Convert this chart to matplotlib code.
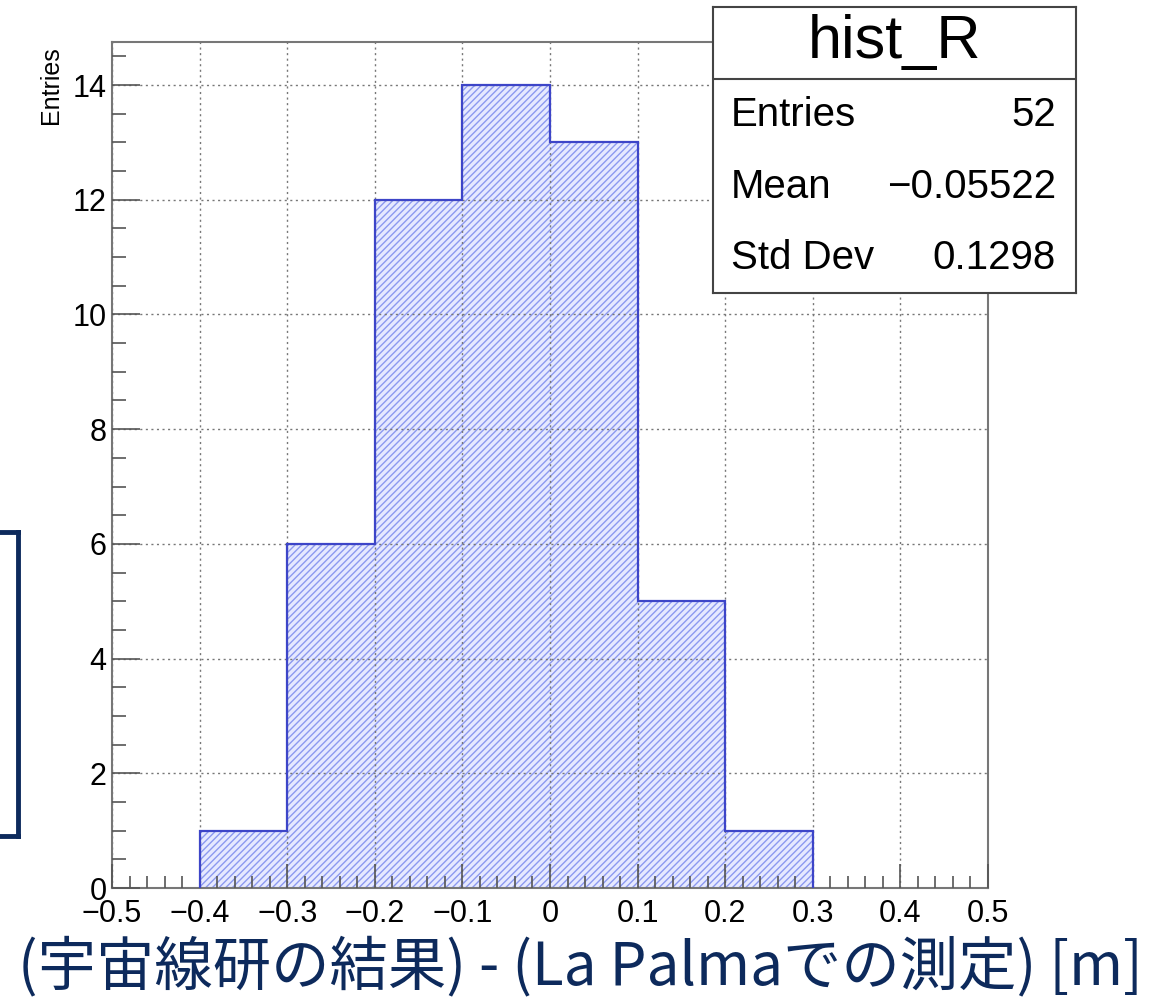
import matplotlib
matplotlib.use("Agg")
import matplotlib.pyplot as plt
from matplotlib.ticker import MultipleLocator, FixedLocator
from matplotlib.lines import Line2D

# histogram data (bin edges in m, counts)
bin_edges = [-0.4, -0.3, -0.2, -0.1, 0.0, 0.1, 0.2, 0.3]
counts = [1, 6, 12, 14, 13, 5, 1]

hist_name = "hist_R"
stat_names = ["Entries", "Mean", "Std Dev"]
stat_values = ["52", "\u22120.05522", "0.1298"]

x_ticks = [-0.5, -0.4, -0.3, -0.2, -0.1, 0, 0.1, 0.2, 0.3, 0.4, 0.5]
x_tick_labels = ["\u22120.5", "\u22120.4", "\u22120.3", "\u22120.2", "\u22120.1",
                 "0", "0.1", "0.2", "0.3", "0.4", "0.5"]
y_ticks = [0, 2, 4, 6, 8, 10, 12, 14]

x_title = "(宇宙線研の結果) - (La Palmaでの測定) [m]"
y_title = "Entries"

plt.rcParams['font.family'] = ['Liberation Sans', 'DejaVu Sans']
plt.rcParams['hatch.linewidth'] = 1.0

W, H = 1168, 999
fig = plt.figure(figsize=(W / 100, H / 100), dpi=100)

# main frame (pixel box: left 112, right 988, top 42, bottom 888)
ax = fig.add_axes([112 / W, (H - 888) / H, (988 - 112) / W, (888 - 42) / H])
ax.set_xlim(-0.5, 0.5)
ax.set_ylim(0, 14.75)

# hatched fill + outline
ax.stairs(counts, bin_edges, fill=True, facecolor='#e6e9ff', edgecolor='#8c99f0',
          hatch='/////', linewidth=0, zorder=1)
ax.stairs(counts, bin_edges, baseline=0, fill=False, color='#3d45c8',
          linewidth=1.6, zorder=3)

ax.grid(True, which='major', linestyle=(0, (1.5, 2.5)), color='#777777', linewidth=1.0)
ax.set_axisbelow(False)

ax.xaxis.set_major_locator(FixedLocator(x_ticks))
ax.set_xticklabels(x_tick_labels)
ax.xaxis.set_minor_locator(MultipleLocator(0.02))
ax.yaxis.set_major_locator(FixedLocator(y_ticks))
ax.yaxis.set_minor_locator(MultipleLocator(0.5))

ax.tick_params(axis='x', which='major', direction='in', length=17, width=1.2,
               color='#555555', labelsize=22, pad=8)
ax.tick_params(axis='x', which='minor', direction='in', length=9, width=1.2, color='#555555')
ax.tick_params(axis='y', which='major', direction='in', length=20, width=1.2,
               color='#555555', labelsize=22, pad=4)
ax.tick_params(axis='y', which='minor', direction='in', length=10, width=1.2, color='#555555')

for s in ax.spines.values():
    s.set_color('#777777')
    s.set_linewidth(1.5)

ax.set_ylabel(y_title, loc='top', fontsize=18)
ax.yaxis.set_label_coords(-0.056, 0.995)

# slide caption sits a bit right of the frame centre
ax.set_xlabel(x_title, fontsize=42, color='#0d2a5c',
              family=['Noto Sans CJK JP', 'DejaVu Sans'], labelpad=6)
ax.xaxis.label.set_x(0.535)

# stats box
sb = fig.add_axes([713 / W, (H - 293) / H, (1076 - 713) / W, (293 - 7) / H])
sb.set_xticks([])
sb.set_yticks([])
sb.set_facecolor('white')
for s in sb.spines.values():
    s.set_color('#444444')
    s.set_linewidth(1.5)
sb.set_xlim(0, 1)
sb.set_ylim(0, 1)
sb.axhline(0.748, color='#444444', linewidth=1.5)
sb.text(0.5, 0.875, hist_name, ha='center', va='center', fontsize=44)
row_y = [0.622, 0.371, 0.122]
for name, val, yy in zip(stat_names, stat_values, row_y):
    sb.text(0.05, yy, name, ha='left', va='center', fontsize=29)
    sb.text(0.945, yy, val, ha='right', va='center', fontsize=29)

# cut-off box at the left edge of the slide
navy = '#0d2a5c'
fig.add_artist(Line2D([0, 18 / W], [(H - 532) / H, (H - 532) / H], color=navy, linewidth=3.5))
fig.add_artist(Line2D([18 / W, 18 / W], [(H - 532) / H, (H - 836) / H], color=navy, linewidth=3.5))
fig.add_artist(Line2D([0, 18 / W], [(H - 836) / H, (H - 836) / H], color=navy, linewidth=3.5))

fig.savefig("out.png", dpi=100)
